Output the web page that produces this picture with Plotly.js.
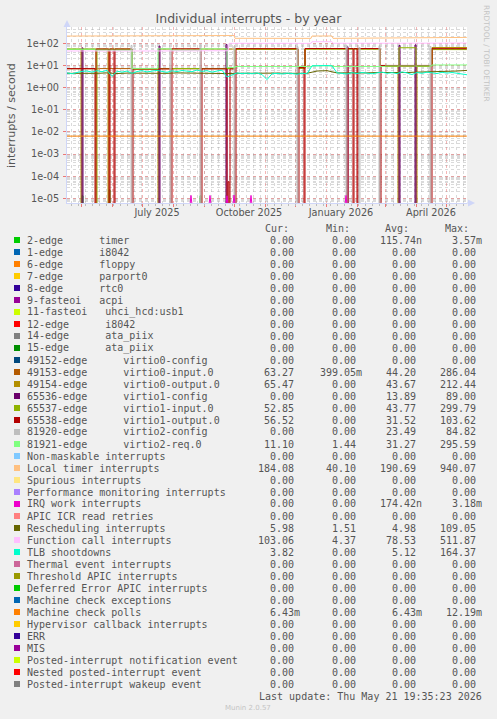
<!DOCTYPE html>
<html><head><meta charset="utf-8">
<script src="https://cdn.plot.ly/plotly-3.0.1.min.js"></script>
<style>html,body{margin:0;padding:0;background:#F0F0F0;}#chart{width:497px;height:719px;}</style>
</head><body><div id="chart"></div>
<script>
// ---------------- DATA ----------------
const START = '2025-04-17';
const END = '2026-05-22';
const LAST = '2026-05-21 19:35';

const seriesNames = [
  '2-edge      timer', '1-edge      i8042', '6-edge      floppy', '7-edge      parport0',
  '8-edge      rtc0', '9-fasteoi   acpi', '11-fasteoi   uhci_hcd:usb1', '12-edge      i8042',
  '14-edge      ata_piix', '15-edge      ata_piix', '49152-edge      virtio0-config',
  '49153-edge      virtio0-input.0', '49154-edge      virtio0-output.0', '65536-edge      virtio1-config',
  '65537-edge      virtio1-input.0', '65538-edge      virtio1-output.0', '81920-edge      virtio2-config',
  '81921-edge      virtio2-req.0', 'Non-maskable interrupts', 'Local timer interrupts',
  'Spurious interrupts', 'Performance monitoring interrupts', 'IRQ work interrupts',
  'APIC ICR read retries', 'Rescheduling interrupts', 'Function call interrupts', 'TLB shootdowns',
  'Thermal event interrupts', 'Threshold APIC interrupts', 'Deferred Error APIC interrupts',
  'Machine check exceptions', 'Machine check polls', 'Hypervisor callback interrupts', 'ERR', 'MIS',
  'Posted-interrupt notification event', 'Nested posted-interrupt event', 'Posted-interrupt wakeup event'
];
const seriesColors = [
  '#00CC00','#0066B3','#FF8000','#FFCC00','#330099','#990099','#CCFF00','#FF0000','#808080','#008F00',
  '#00487D','#B35A00','#B38F00','#6B006B','#8FB300','#B30000','#BEBEBE','#80FF80','#80C9FF','#FFC080',
  '#FFE680','#AA80FF','#EE00CC','#FF8080','#666600','#FFBFFF','#00FFCC','#CC6699','#999900','#00CC00',
  '#0066B3','#FF8000','#FFCC00','#330099','#990099','#CCFF00','#FF0000','#808080'
];
const curValues = ['0.00','0.00','0.00','0.00','0.00','0.00','0.00','0.00','0.00','0.00','0.00',
  '63.27','65.47','0.00','52.85','56.52','0.00','11.10','0.00','184.08','0.00','0.00','0.00','0.00',
  '5.98','103.06','3.82','0.00','0.00','0.00','0.00','6.43m','0.00','0.00','0.00','0.00','0.00','0.00'];
const minValues = ['0.00','0.00','0.00','0.00','0.00','0.00','0.00','0.00','0.00','0.00','0.00',
  '399.05m','0.00','0.00','0.00','0.00','0.00','1.44','0.00','40.10','0.00','0.00','0.00','0.00',
  '1.51','4.37','0.00','0.00','0.00','0.00','0.00','0.00','0.00','0.00','0.00','0.00','0.00','0.00'];
const avgValues = ['115.74n','0.00','0.00','0.00','0.00','0.00','0.00','0.00','0.00','0.00','0.00',
  '44.20','43.67','13.89','43.77','31.52','23.49','31.27','0.00','190.69','0.00','0.00','174.42n','0.00',
  '4.98','78.53','5.12','0.00','0.00','0.00','0.00','6.43m','0.00','0.00','0.00','0.00','0.00','0.00'];
const maxValues = ['3.57m','0.00','0.00','0.00','0.00','0.00','0.00','0.00','0.00','0.00','0.00',
  '286.04','212.44','89.00','299.79','103.62','84.82','295.59','0.00','940.07','0.00','0.00','3.18m','0.00',
  '109.05','511.87','164.37','0.00','0.00','0.00','0.00','12.19m','0.00','0.00','0.00','0.00','0.00','0.00'];

// 2-edge timer: short bursts
const timerSpikeDates = ['2025-05-02','2025-05-29','2025-08-28'];
const timerSpikeValues = [1.3e-5, 2.4e-5, 1.3e-5];

// 49153-edge virtio0-input.0
const virtio0InputDates = ['2025-04-17','2025-05-20','2025-06-21','2025-07-17','2025-08-29','2025-10-02','2025-12-04','2025-12-11','2026-02-24','2026-04-17', LAST];
const virtio0InputValues = [7.0, 7.2, 6.8, 7.0, 7.1, 56, 7.5, 57, 9.0, 62, 63.27];

// 49154-edge virtio0-output.0
const virtio0OutputDates = ['2025-04-17','2025-05-01','2025-05-02','2025-05-28','2025-05-29','2025-06-21','2025-07-17','2025-07-18','2025-12-04','2025-12-11','2026-02-24','2026-03-14','2026-03-15','2026-04-01','2026-04-02','2026-04-17', LAST];
const virtio0OutputValues = [55, 0, 55, 0, 55, 6.8, 0, 55, 7.5, 56, 9.5, 0, 9.5, 0, 9.5, 64, 65.47];

// 65536-edge virtio1-config: bursts
const virtio1ConfigDates = ['2025-05-02','2025-07-18','2025-09-23','2026-01-22','2026-03-15','2026-03-31'];
const virtio1ConfigValues = [62, 75, 89, 70, 80, 85];

// 65537-edge virtio1-input.0
const virtio1InputDates = ['2025-04-17','2025-05-16','2025-05-17','2025-06-21','2025-10-02','2025-12-04','2025-12-11','2026-02-24','2026-03-15','2026-04-01','2026-04-17', LAST];
const virtio1InputValues = [54, 0, 54, 7.3, 54, 7.8, 55, 9.3, 63, 9.3, 52, 52.85];

// 65538-edge virtio1-output.0
const virtio1OutputDates = ['2025-04-17','2025-05-15','2025-05-16','2025-05-29','2025-05-30','2025-06-03','2025-06-04','2025-06-21','2025-06-22','2025-07-30','2025-07-31','2025-08-29','2025-08-30','2025-09-24','2025-09-25','2025-09-26','2025-09-27','2025-10-02','2025-10-03','2025-12-04','2025-12-05','2025-12-10','2025-12-11','2026-01-22','2026-01-23','2026-01-28','2026-01-29','2026-02-01','2026-02-02','2026-02-24','2026-02-25','2026-04-16','2026-04-17', LAST];
const virtio1OutputValues = [7.2, 0, 55, 0, 55, 0, 55, 0, 7.0, 0, 56, 0, 7.0, 0, 5.6e-5, 0, 7.0, 0, 57, 0, 8.0, 0, 58, 0, 58, 0, 58, 0, 58, 0, 10, 0, 57, 56.52];

// 81920-edge virtio2-config: bursts
const virtio2ConfigDates = ['2025-06-20','2025-07-29','2025-08-28','2025-10-01','2025-12-03','2026-01-21','2026-02-03','2026-02-23','2026-04-15'];
const virtio2ConfigValues = [80, 60, 84.82, 75, 70, 82, 65, 78, 72];

// 81921-edge virtio2-req.0
const virtio2ReqDates = ['2025-04-17','2025-05-15','2025-06-21','2025-07-17','2025-07-30','2025-08-29','2025-09-24','2025-10-02','2025-12-18','2026-01-08','2026-03-01','2026-04-17', LAST];
const virtio2ReqValues = [54, 49, 7.2, 56, 49, 56, 8.0, 9.0, 9.6, 9.0, 9.5, 10.5, 11.1];

// Local timer interrupts
const localTimerDates = ['2025-04-17','2025-05-20','2025-06-25','2025-07-20','2025-08-05','2025-08-25','2025-09-15','2025-10-01','2025-10-02','2025-11-15','2025-12-17','2025-12-18','2026-01-07','2026-01-08','2026-02-15','2026-03-15','2026-04-15','2026-05-05', LAST];
const localTimerValues = [212, 214, 213, 218, 226, 230, 222, 224, 168, 166, 167, 213, 214, 167, 170, 176, 179, 183, 184.08];

// IRQ work interrupts: bursts
const irqWorkDates = ['2025-08-19','2025-09-07','2025-09-24','2025-10-01','2025-10-18','2026-01-21'];
const irqWorkValues = [1.35e-5, 1.35e-5, 1.3e-5, 1.4e-5, 1.35e-5, 1.35e-5];

// Rescheduling interrupts (every 10 days)
const reschedValues = [4.4,4.3,4.5,4.4,4.6,4.3,4.5,4.4,4.6,4.5, 4.4,4.6,4.5,4.4,4.6,4.5,4.3,4.4,4.5,4.3,
  4.4,4.5,4.4,4.3,4.4,5.6,5.8,4.6,4.5,4.7, 4.6,4.8,4.7,4.9,4.8,5.0,5.1,5.3,5.4,5.6, 5.98];

// Function call interrupts
const functionCallDates = ['2025-04-17','2025-06-01','2025-07-20','2025-09-01','2025-09-25','2025-09-26','2025-12-17','2025-12-18','2026-01-07','2026-01-08','2026-03-01','2026-04-20', LAST];
const functionCallValues = [45, 44, 45, 46, 46, 100, 99, 118, 118, 100, 98, 101, 103.06];

// TLB shootdowns (every 5 days)
const tlbValues = [4.6,4.2,4.8,5.4,5.6,5.0,5.8,5.2,6.0,3.2, 5.5,5.0,5.6,4.4,5.3,5.8,5.1,5.6,6.0,5.4,
  4.9,5.7,5.3,5.9,5.5,5.2,6.2,5.4,5.8,5.0, 5.6,6.1,3.0,3.6,4.6,4.3,4.5,4.2,4.6,3.9,
  2.3,4.2,4.4,4.1,4.5,4.3,4.0,4.4,4.2,9.6, 9.8,9.7,9.9,9.6,4.6,4.4,4.1,4.7,4.3,4.8,
  4.5,4.2,4.6,5.0,4.4,4.7,4.3,5.1,4.6,3.9, 4.8,4.4,5.0,4.6,4.3,4.9,4.5,4.8,4.4,4.2, 3.8];

// Machine check polls
const mcPollDates = ['2025-04-17','2025-08-01','2025-12-01','2026-03-01', LAST];
const mcPollValues = [6.43e-3, 6.43e-3, 6.43e-3, 6.43e-3, 6.43e-3];

const xTickVals = ['2025-07-16','2025-10-16','2026-01-16','2026-04-16'];
const xTickText = ['July 2025','October 2025','January 2026','April 2026'];
const yTickVals = [1e-5,1e-4,1e-3,1e-2,1e-1,1,10,100];
const yTickText = ['1e-05','1e-04','1e-03','1e-02','1e-01','1e+00','1e+01','1e+02'];

// ---------------- HELPERS ----------------
const FLOOR = 5e-6; // zero drawn below bottom edge of log axis
function addDays(s, n) {
  const d = new Date(s.slice(0,10) + 'T00:00:00Z');
  d.setUTCDate(d.getUTCDate() + n);
  return d.toISOString().slice(0,10);
}
function sampleDates(step, n) { const a = []; for (let i = 0; i < n; i++) a.push(addDays(START, i*step)); return a; }
function clampY(v) { return v > 0 ? v : FLOOR; }
const LW = 1;
function stepTrace(dates, values, color) {
  return {x: dates, y: values.map(clampY), mode: 'lines', line: {shape: 'hv', color: color, width: LW}, hoverinfo: 'skip'};
}
function lineTrace(dates, values, color) {
  return {x: dates, y: values.map(clampY), mode: 'lines', line: {shape: 'linear', color: color, width: LW}, hoverinfo: 'skip'};
}
function barSpikes(dates, values, color) {
  const x = [START], y = [FLOOR];
  dates.forEach((d, i) => { x.push(d); y.push(values[i]); x.push(addDays(d, 1)); y.push(FLOOR); });
  x.push(LAST); y.push(FLOOR);
  return {x, y, mode: 'lines', line: {shape: 'hv', color: color, width: LW}, hoverinfo: 'skip'};
}
function triSpikes(dates, values, color) {
  const x = [START], y = [FLOOR];
  dates.forEach((d, i) => { x.push(addDays(d, -1)); y.push(FLOOR); x.push(d); y.push(values[i]); x.push(addDays(d, 1)); y.push(FLOOR); });
  x.push(LAST); y.push(FLOOR);
  return {x, y, mode: 'lines', line: {shape: 'linear', color: color, width: LW}, hoverinfo: 'skip'};
}
const C = (name) => seriesColors[seriesNames.indexOf(name)];

const traces = [
  barSpikes(timerSpikeDates, timerSpikeValues, C('2-edge      timer')),
  stepTrace(virtio0InputDates, virtio0InputValues, C('49153-edge      virtio0-input.0')),
  stepTrace(virtio0OutputDates, virtio0OutputValues, C('49154-edge      virtio0-output.0')),
  barSpikes(virtio1ConfigDates, virtio1ConfigValues, C('65536-edge      virtio1-config')),
  stepTrace(virtio1InputDates, virtio1InputValues, C('65537-edge      virtio1-input.0')),
  stepTrace(virtio1OutputDates, virtio1OutputValues, C('65538-edge      virtio1-output.0')),
  barSpikes(virtio2ConfigDates, virtio2ConfigValues, C('81920-edge      virtio2-config')),
  stepTrace(virtio2ReqDates, virtio2ReqValues, C('81921-edge      virtio2-req.0')),
  lineTrace(localTimerDates, localTimerValues, C('Local timer interrupts')),
  triSpikes(irqWorkDates, irqWorkValues, C('IRQ work interrupts')),
  lineTrace(sampleDates(10, reschedValues.length), reschedValues, C('Rescheduling interrupts')),
  lineTrace(functionCallDates, functionCallValues, C('Function call interrupts')),
  lineTrace(sampleDates(5, tlbValues.length), tlbValues, C('TLB shootdowns')),
  lineTrace(mcPollDates, mcPollValues, C('Machine check polls')),
  {x: [], y: [], xaxis: 'x2', yaxis: 'y', mode: 'lines', hoverinfo: 'skip'}
];

// ---------------- LAYOUT ----------------
const W = 497, H = 719, PL = 67, PR = 467, PT = 27, PB = 203;
const px = (v) => (v - PL) / (PR - PL);
const py = (v) => (PB - v) / (PB - PT);
const TXT = '#555555';
const mono = {family: 'DejaVu Sans Mono', size: 10, color: TXT};
const nb = (s) => s.replace(/ /g, '\u00A0');
const shapes = [], annotations = [];

// axis arrows
const AX = '#CFD6F8';
shapes.push({type: 'path', xref: 'paper', yref: 'paper', line: {width: 0}, fillcolor: AX,
  path: `M ${px(67)},${py(20)} L ${px(63.5)},${py(27)} L ${px(70.5)},${py(27)} Z`});
shapes.push({type: 'path', xref: 'paper', yref: 'paper', line: {width: 0}, fillcolor: AX,
  path: `M ${px(475)},${py(203)} L ${px(468)},${py(199.5)} L ${px(468)},${py(206.5)} Z`});
shapes.push({type: 'line', xref: 'paper', yref: 'paper', x0: px(467), x1: px(469), y0: py(203), y1: py(203), line: {color: AX, width: 1}});

// legend table
const ROW0 = 240, STEP = 12;
const colRight = [301.3, 363.3, 422.7, 483];
const colHeads = ['Cur:', 'Min:', 'Avg:', 'Max:'];
const headRight = [290, 351, 410, 470];
colHeads.forEach((h, c) => annotations.push({xref: 'paper', yref: 'paper', x: px(headRight[c]), y: py(228), xanchor: 'right', yanchor: 'middle', text: h, showarrow: false, font: mono, borderpad: 0}));
const fmt = (s) => /[a-z]$/.test(s) ? s : s + '\u00A0';
seriesNames.forEach((name, i) => {
  const cy = ROW0 + STEP * i;
  shapes.push({type: 'rect', xref: 'paper', yref: 'paper', x0: px(14), x1: px(20), y0: py(cy + 3), y1: py(cy - 3), fillcolor: seriesColors[i], line: {width: 0}});
  annotations.push({xref: 'paper', yref: 'paper', x: px(26), y: py(cy), xanchor: 'left', yanchor: 'middle', text: nb(name), showarrow: false, font: mono, borderpad: 0});
  [curValues, minValues, avgValues, maxValues].forEach((arr, c) => {
    annotations.push({xref: 'paper', yref: 'paper', x: px(colRight[c]), y: py(cy), xanchor: 'right', yanchor: 'middle', text: fmt(arr[i]), showarrow: false, font: mono, borderpad: 0});
  });
});
annotations.push({xref: 'paper', yref: 'paper', x: px(483), y: py(ROW0 + STEP * 38), xanchor: 'right', yanchor: 'middle', text: nb('Last update: Thu May 21 19:35:23 2026'), showarrow: false, font: mono, borderpad: 0});
annotations.push({xref: 'paper', yref: 'paper', x: px(248), y: py(708), xanchor: 'center', yanchor: 'middle', text: 'Munin 2.0.57', showarrow: false, font: {family: 'DejaVu Sans', size: 7, color: '#c4c4c4'}, borderpad: 0});
annotations.push({xref: 'paper', yref: 'paper', x: px(487), y: py(53), xanchor: 'center', yanchor: 'middle', textangle: 90, text: 'RRDTOOL / TOBI OETIKER', showarrow: false, font: {family: 'DejaVu Sans', size: 7.5, color: '#c4c4c4'}, borderpad: 0});
annotations.push({xref: 'paper', yref: 'paper', x: px(11), y: py(115), xanchor: 'center', yanchor: 'middle', textangle: -90, text: 'interrupts / second', showarrow: false, font: {family: 'DejaVu Sans', size: 11.1, color: TXT}, borderpad: 0});

const MGRID = 'rgba(235,90,90,0.45)';
const GRID = 'rgba(150,150,150,0.35)';
const layout = {
  width: W, height: H,
  margin: {l: PL, r: W - PR, t: PT, b: H - PB, pad: 0},
  paper_bgcolor: '#F0F0F0', plot_bgcolor: '#FFFFFF',
  showlegend: false,
  font: {family: 'DejaVu Sans', size: 9.7, color: TXT},
  title: {text: 'Individual interrupts - by year', font: {family: 'DejaVu Sans', size: 12.5, color: TXT},
    x: 0.5, xref: 'container', xanchor: 'center', y: 1 - 19 / H, yref: 'container', yanchor: 'middle'},
  xaxis: {type: 'date', range: [START, END], tickmode: 'array', tickvals: xTickVals, ticktext: xTickText,
    ticks: '', showgrid: false, showline: true, linecolor: AX, linewidth: 1, zeroline: false,
    tickfont: {family: 'DejaVu Sans', size: 9.7, color: TXT}, fixedrange: true,
    minor: {dtick: 'M1', tick0: '2025-05-01', showgrid: true, gridcolor: MGRID, griddash: 'dot', gridwidth: 1,
      ticks: 'outside', ticklen: 3, tickcolor: 'rgba(235,90,90,0.8)'}},
  xaxis2: {type: 'date', overlaying: 'x', range: [START, END], tickmode: 'linear', tick0: '2025-04-21', dtick: 7 * 86400000,
    showticklabels: false, showgrid: true, gridcolor: GRID, griddash: 'dot', gridwidth: 1,
    ticks: 'outside', ticklen: 2, tickcolor: '#bbbbbb', showline: false, zeroline: false, fixedrange: true},
  yaxis: {type: 'log', range: [-5.212, 2.736], tickmode: 'array', tickvals: yTickVals, ticktext: yTickText,
    ticks: 'outside', ticklen: 3, tickcolor: 'rgba(235,90,90,0.8)', showgrid: true, gridcolor: MGRID, griddash: 'dot', gridwidth: 1,
    showline: true, linecolor: AX, linewidth: 1, zeroline: false, ticklabelstandoff: 2,
    tickfont: {family: 'DejaVu Sans', size: 9.7, color: TXT}, fixedrange: true,
    minor: {dtick: 'D1', showgrid: true, gridcolor: GRID, griddash: 'dot', gridwidth: 1}},
  shapes, annotations
};
Plotly.newPlot('chart', traces, layout, {displayModeBar: false, staticPlot: true});
</script></body></html>
